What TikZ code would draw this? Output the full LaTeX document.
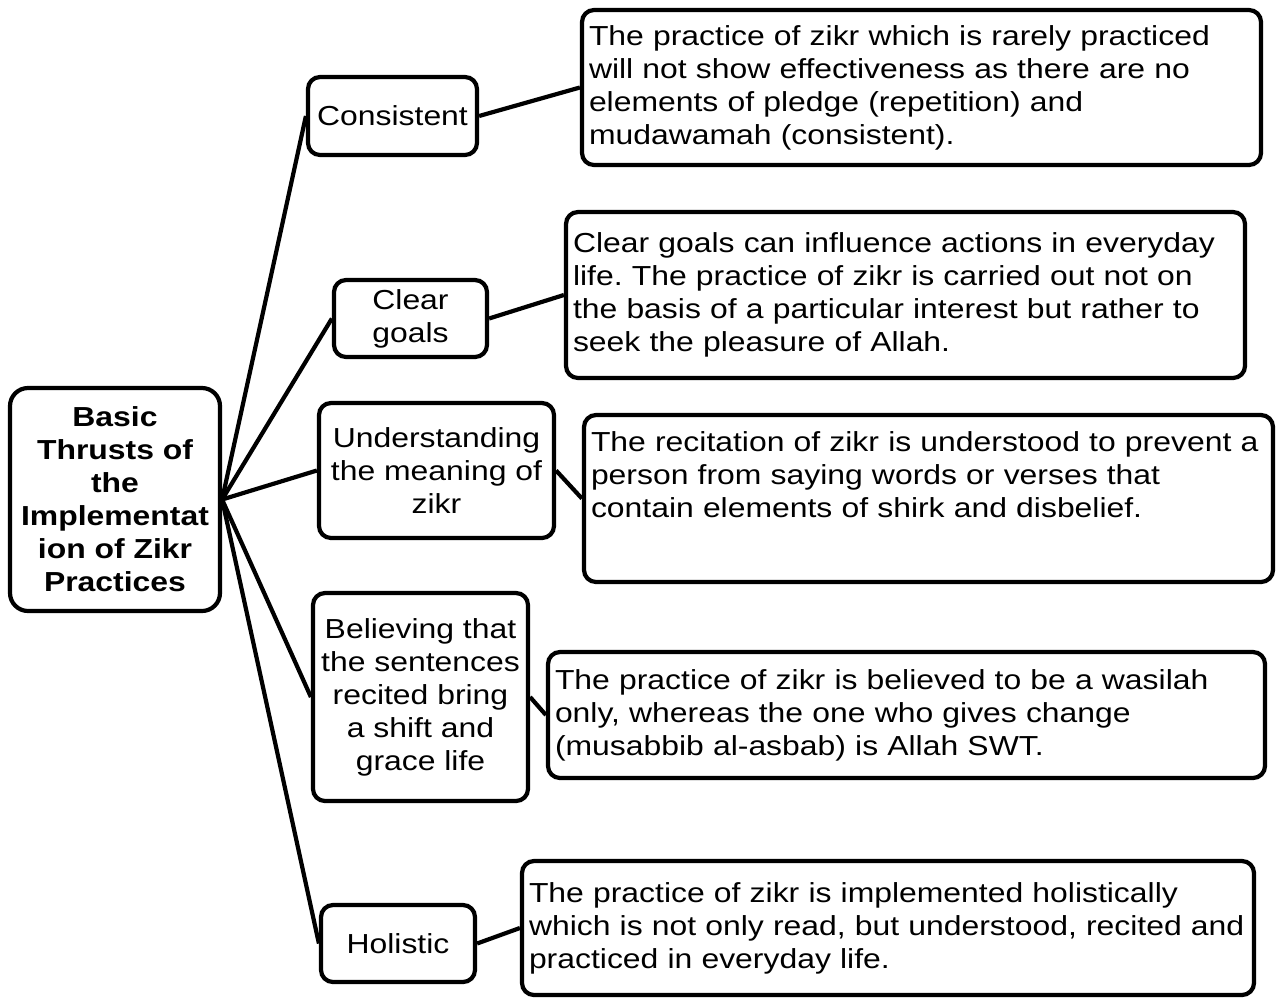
\documentclass[tikz,border=0pt]{standalone}
\usepackage{fontspec}
\setmainfont{Liberation Sans}[FakeStretch=1.16]
\usetikzlibrary{positioning}
\definecolor{Ink}{HTML}{000000}
\definecolor{Paper}{HTML}{FFFFFF}
\frenchspacing

\begin{document}
\begin{tikzpicture}[x=1pt, y=-1pt,
    every node/.style={draw=Ink, fill=Paper, line width=4.2pt, rounded corners=12pt, inner sep=0pt, font=\fontsize{27.5}{33}\selectfont},
    thrust/.style={align=center, font=\fontsize{27.5}{33}\selectfont\bfseries, rounded corners=18pt},
    key/.style={align=center},
    detail/.style={align=left},
    link/.style={Ink, line width=4.2pt}]
    \useasboundingbox (0,0) rectangle (1277,997);
    \node[thrust, minimum width=210pt, minimum height=223pt] (root) at (115,499.5)
      {Basic\\Thrusts of\\the\\Implementat\\ion of Zikr\\Practices};
    % the five thrusts
    \node[key, minimum width=169pt, minimum height=78pt] (k1) at (392.5,116) {Consistent};
    \node[key, minimum width=153pt, minimum height=77pt] (k2) at (410.5,318.5) {Clear\\goals};
    \node[key, minimum width=235pt, minimum height=135pt] (k3) at (436.5,470.5) {Understanding\\the meaning of\\zikr};
    \node[key, minimum width=215pt, minimum height=208pt] (k4) at (420.5,697)
      {Believing that\\the sentences\\recited bring\\a shift and\\grace life};
    \node[key, minimum width=154pt, minimum height=77pt] (k5) at (398,943.5) {Holistic};
    % what each one means
    \node[detail, text width=665pt, minimum width=679pt, minimum height=155pt] (e1) at (921.5,87.5)
      {The practice of zikr which is rarely practiced\\will not show effectiveness as there are no\\elements of pledge (repetition) and\\mudawamah (consistent).};
    \node[detail, text width=665pt, minimum width=679pt, minimum height=166pt] (e2) at (905.5,295)
      {Clear goals can influence actions in everyday\\life. The practice of zikr is carried out not on\\the basis of a particular interest but rather to\\seek the pleasure of Allah.};
    \node[detail, text width=675pt, minimum width=689pt, minimum height=167pt] (e3) at (928.5,498.5)
      {\parbox[c][134pt][t]{\linewidth}{The recitation of zikr is understood to prevent a\\person from saying words or verses that\\contain elements of shirk and disbelief.}};
    \node[detail, text width=703pt, minimum width=717pt, minimum height=126pt] (e4) at (906.5,715)
      {The practice of zikr is believed to be a wasilah\\only, whereas the one who gives change\\(musabbib al-asbab) is Allah SWT.};
    \node[detail, text width=718pt, minimum width=732pt, minimum height=134pt] (e5) at (888,928)
      {The practice of zikr is implemented holistically\\which is not only read, but understood, recited and\\practiced in everyday life.};
    \foreach \i in {1,...,5}{
      \draw[link] (root.east) -- (k\i.west);
      \draw[link] (k\i.east) -- (e\i.west);
    }
\end{tikzpicture}
\end{document}
